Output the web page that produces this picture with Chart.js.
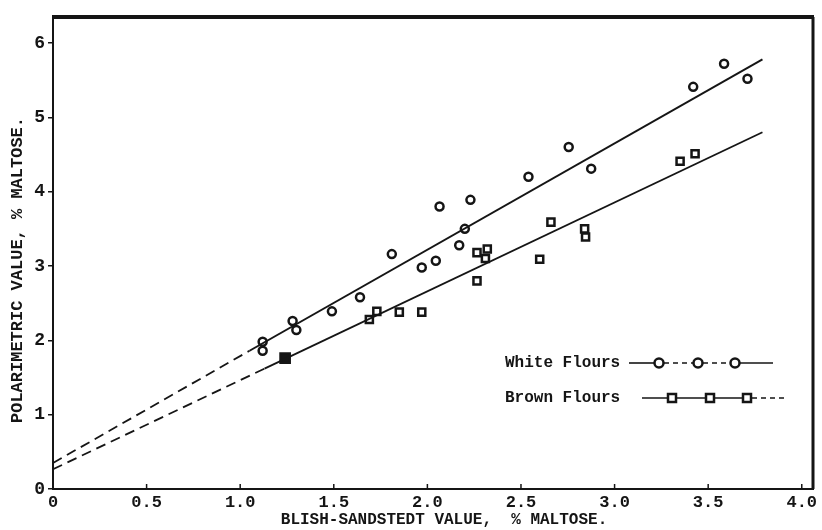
<!DOCTYPE html>
<html>
<head>
<meta charset="utf-8">
<script src="https://cdn.jsdelivr.net/npm/chart.js@4.4.1/dist/chart.umd.min.js"></script>
<style>
  html, body { margin: 0; padding: 0; background: #fff; }
  canvas { display: block; }
</style>
</head>
<body>
<canvas id="maltoseChart" width="822" height="530"></canvas>
<script>
// Values
const whiteX = [1.12, 1.12, 1.28, 1.30, 1.49, 1.64, 1.81, 1.97, 2.045, 2.065, 2.17, 2.20, 2.23, 2.54, 2.755, 2.875, 3.42, 3.585, 3.71]
const whiteY = [1.98, 1.86, 2.26, 2.14, 2.39, 2.58, 3.16, 2.98, 3.07, 3.80, 3.28, 3.50, 3.89, 4.20, 4.60, 4.31, 5.41, 5.72, 5.52]

const brownX = [1.24, 1.69, 1.73, 1.85, 1.97, 2.265, 2.32, 2.31, 2.265, 2.60, 2.66, 2.84, 2.845, 3.35, 3.43]
const brownY = [1.76, 2.28, 2.39, 2.38, 2.38, 3.18, 3.23, 3.10, 2.80, 3.09, 3.59, 3.50, 3.39, 4.41, 4.51]

// fitted lines: first segment is the dashed extrapolation to the y axis
const whiteFitX = [0, 1.05, 3.79]
const whiteFitY = [0.35, 1.86, 5.78]
const brownFitX = [0, 1.13, 3.79]
const brownFitY = [0.265, 1.62, 4.80]

const xTicks = [0, 0.5, 1.0, 1.5, 2.0, 2.5, 3.0, 3.5, 4.0]
const yTicks = [0, 1, 2, 3, 4, 5, 6]

const legendLabels = ["White Flours", "Brown Flours"]
const yTitle = "POLARIMETRIC VALUE, % MALTOSE."
const xTitle = "BLISH-SANDSTEDT VALUE,  % MALTOSE."

const INK = "#151515"
const MONO = "'Liberation Mono', 'DejaVu Sans Mono', monospace"

const toPoints = (xs, ys) => xs.map((x, i) => ({ x: x, y: ys[i] }))

// frame: heavy top and right edges, small inward ticks on the x axis, axis titles, legend
const framePlugin = {
  id: "frame",
  beforeDraw: (chart) => {
    const ctx = chart.ctx
    ctx.save()
    ctx.fillStyle = "#fff"
    ctx.fillRect(0, 0, chart.width, chart.height)
    ctx.restore()
  },
  afterDraw: (chart) => {
    const ctx = chart.ctx
    const a = chart.chartArea
    const xs = chart.scales.x
    ctx.save()
    ctx.strokeStyle = INK
    ctx.fillStyle = INK
    ctx.lineCap = "butt"

    // top edge
    ctx.lineWidth = 4
    ctx.beginPath()
    ctx.moveTo(a.left - 1, a.top)
    ctx.lineTo(a.right + 1, a.top)
    ctx.stroke()
    // right edge
    ctx.lineWidth = 3
    ctx.beginPath()
    ctx.moveTo(a.right, a.top)
    ctx.lineTo(a.right, a.bottom)
    ctx.stroke()

    // x ticks point inward
    ctx.lineWidth = 1.5
    xTicks.forEach((v) => {
      if (v === 0) return
      const px = xs.getPixelForValue(v)
      ctx.beginPath()
      ctx.moveTo(px, a.bottom)
      ctx.lineTo(px, a.bottom - 5)
      ctx.stroke()
    })

    // axis titles, placed off-centre as in the scan
    ctx.textAlign = "center"
    ctx.textBaseline = "middle"
    ctx.font = "bold 16px " + MONO
    ctx.fillText(xTitle, 444, 520)

    ctx.save()
    ctx.translate(18, 270)
    ctx.rotate(-Math.PI / 2)
    ctx.font = "bold 17px " + MONO
    ctx.fillText(yTitle, 0, 0)
    ctx.restore()

    // legend
    ctx.font = "bold 16px " + MONO
    ctx.textAlign = "left"
    ctx.fillText(legendLabels[0], 505, 363)
    ctx.fillText(legendLabels[1], 505, 398)

    const seg = (x0, x1, y, dash) => {
      ctx.setLineDash(dash || [])
      ctx.beginPath()
      ctx.moveTo(x0, y)
      ctx.lineTo(x1, y)
      ctx.stroke()
    }
    ctx.lineWidth = 1.6
    seg(629, 654, 363)
    seg(664, 693, 363, [5, 4])
    seg(703, 730, 363, [5, 4])
    seg(740, 773, 363)
    seg(642, 752, 398)
    seg(752, 784, 398, [5, 4])
    ctx.setLineDash([])

    ctx.lineWidth = 2.5
    ;[659, 698, 735].forEach((cx) => {
      ctx.beginPath()
      ctx.fillStyle = "#fff"
      ctx.arc(cx, 363, 4.5, 0, Math.PI * 2)
      ctx.fill()
      ctx.stroke()
    })
    ;[672, 710, 747].forEach((cx) => {
      ctx.fillStyle = "#fff"
      ctx.fillRect(cx - 4, 394, 8, 8)
      ctx.strokeRect(cx - 4, 394, 8, 8)
    })
    ctx.restore()
  },
}

new Chart(document.getElementById("maltoseChart"), {
  type: "scatter",
  data: {
    datasets: [
      {
        label: "White fit",
        data: toPoints(whiteFitX, whiteFitY),
        showLine: true,
        borderColor: INK,
        borderWidth: 2,
        pointRadius: 0,
        segment: {
          borderDash: (c) => (c.p0DataIndex === 0 ? [10, 6] : undefined),
          borderWidth: (c) => (c.p0DataIndex === 0 ? 1.8 : 2),
        },
      },
      {
        label: "Brown fit",
        data: toPoints(brownFitX, brownFitY),
        showLine: true,
        borderColor: INK,
        borderWidth: 1.8,
        pointRadius: 0,
        segment: {
          borderDash: (c) => (c.p0DataIndex === 0 ? [10, 6] : undefined),
        },
      },
      {
        label: legendLabels[0],
        data: toPoints(whiteX, whiteY),
        pointStyle: "circle",
        pointRadius: 4,
        pointBorderWidth: 2.5,
        pointBorderColor: INK,
        pointBackgroundColor: "#fff",
      },
      {
        label: legendLabels[1],
        data: toPoints(brownX, brownY),
        pointStyle: "rect",
        pointRadius: (c) => (c.dataIndex === 0 ? 6.5 : 5),
        pointBorderWidth: 2.5,
        pointBorderColor: INK,
        pointBackgroundColor: (c) => (c.dataIndex === 0 ? INK : "#fff"),
      },
    ],
  },
  options: {
    responsive: false,
    animation: false,
    events: [],
    layout: {
      padding: { top: 17, right: 3, left: 0, bottom: 0 },
    },
    plugins: {
      legend: { display: false },
      tooltip: { enabled: false },
    },
    scales: {
      x: {
        type: "linear",
        min: 0,
        max: 4.06,
        afterBuildTicks: (scale) => {
          scale.ticks = xTicks.map((v) => ({ value: v }))
        },
        afterFit: (scale) => {
          scale.height = 41
        },
        grid: { display: false, drawTicks: false },
        border: { display: true, color: INK, width: 2 },
        ticks: {
          color: INK,
          padding: 4,
          maxRotation: 0,
          font: { family: MONO, size: 17, weight: "bold" },
          callback: (v) => (v === 0 ? "0" : Number(v).toFixed(1)),
        },
        title: { display: false },
      },
      y: {
        type: "linear",
        min: 0,
        max: 6.35,
        afterBuildTicks: (scale) => {
          scale.ticks = yTicks.map((v) => ({ value: v }))
        },
        afterFit: (scale) => {
          scale.width = 53
        },
        grid: {
          display: true,
          drawOnChartArea: false,
          drawTicks: true,
          tickLength: 5,
          color: INK,
          lineWidth: 1.5,
        },
        border: { display: true, color: INK, width: 2 },
        ticks: {
          color: INK,
          padding: 3,
          font: { family: MONO, size: 18, weight: "bold" },
          callback: (v) => String(v),
        },
        title: { display: false },
      },
    },
  },
  plugins: [framePlugin],
})
</script>
</body>
</html>
